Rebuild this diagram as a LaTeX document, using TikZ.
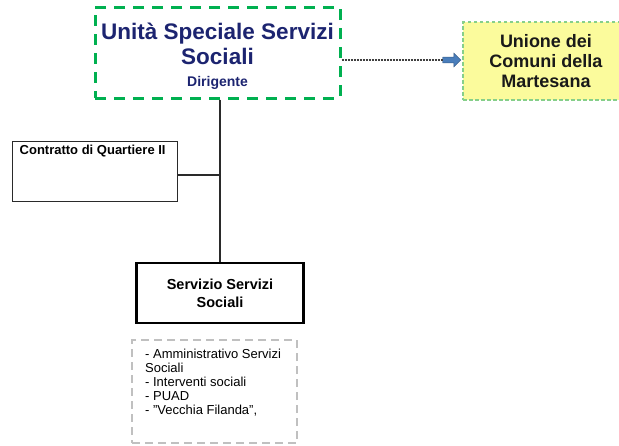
\documentclass[tikz,border=0pt]{standalone}
\usepackage{fontspec}
\setmainfont{Liberation Sans}
\usetikzlibrary{shapes.arrows,calc}
\definecolor{officegreen}{HTML}{00B050}
\definecolor{lightgreen}{HTML}{86CF8A}
\definecolor{paleyellow}{HTML}{FBFB9C}
\definecolor{navy}{HTML}{1C2470}
\definecolor{arrowblue}{HTML}{4A7EBB}
\definecolor{arrowedge}{HTML}{385D8A}
\definecolor{dashgray}{HTML}{C0C0C0}
\definecolor{linegray}{HTML}{2A2A2A}

\begin{document}
\begin{tikzpicture}[x=1pt,y=-1pt,
  headbox/.style={draw=officegreen, line width=3pt, dash pattern=on 11pt off 8pt,
    minimum width=245pt, minimum height=91pt, inner sep=0pt},
  headtext/.style={align=center, text=navy, inner sep=0pt,
    font=\fontsize{22.5}{25}\selectfont\bfseries},
  unionbox/.style={draw=lightgreen, fill=paleyellow, line width=1.3pt,
    dash pattern=on 3.5pt off 2.5pt, minimum width=166pt, minimum height=78pt,
    align=center, inner sep=0pt, text=black!90,
    font=\fontsize{18}{20}\selectfont\bfseries},
  plainbox/.style={draw=linegray, line width=1pt, minimum width=165pt,
    minimum height=60pt, inner sep=0pt},
  unitbox/.style={draw=black, line width=2.5pt, minimum width=167pt,
    minimum height=60pt, inner sep=0pt, align=center,
    font=\fontsize{14.5}{18}\selectfont\bfseries},
  listbox/.style={draw=dashgray, line width=1.5pt, dash pattern=on 8pt off 5pt,
    minimum width=165pt, minimum height=103pt, inner sep=0pt},
  listtext/.style={align=left, inner sep=0pt, font=\fontsize{13}{14}\selectfont},
  link/.style={draw=linegray, line width=1.2pt},
  dotlink/.style={draw=black!75, line width=1.2pt, dash pattern=on 2pt off 1pt}
]
\clip (0,0) rectangle (619,445);

% head office
\node[headbox] (usss) at (217.5,52.5) {};
\node[headtext] (usssT) at (217.5,56)
  {Unità Speciale Servizi\\Sociali\\[-3pt]{\fontsize{14}{14}\selectfont Dirigente}};

% partner union (runs past the right edge)
\node[unionbox] (union) at (546,61) {Unione dei\\Comuni della\\Martesana};

% block arrow towards the union
\node[single arrow, fill=arrowblue, draw=arrowedge, line width=0.4pt,
  minimum height=18pt, inner sep=2.7pt, single arrow head extend=4pt,
  anchor=tip] (arr) at (461,60) {};
\draw[dotlink] (usss.east |- arr.tail) -- (arr.tail);

% side unit
\node[plainbox] (cq) at (94.5,171) {};
\node[anchor=base west, inner sep=0pt, font=\fontsize{13}{14}\selectfont\bfseries]
  (cqT) at ($(cq.north west)+(8,14)$) {Contratto di Quartiere II};

% service unit
\node[unitbox] (serv) at (220,293) {Servizio Servizi\\Sociali};

% activities list
\node[listbox] (list) at (214.5,391.5) {};
\node[listtext, anchor=north west] (listT) at (145,348.5)
  {- Amministrativo Servizi\\Sociali\\- Interventi sociali\\- PUAD\\- ''Vecchia Filanda'',};

% connectors
\coordinate (junc) at (220,175);
\draw[link] (usss.south -| junc) -- (serv.north -| junc);
\draw[link] (cq.east |- junc) -- (junc);
\end{tikzpicture}
\end{document}
